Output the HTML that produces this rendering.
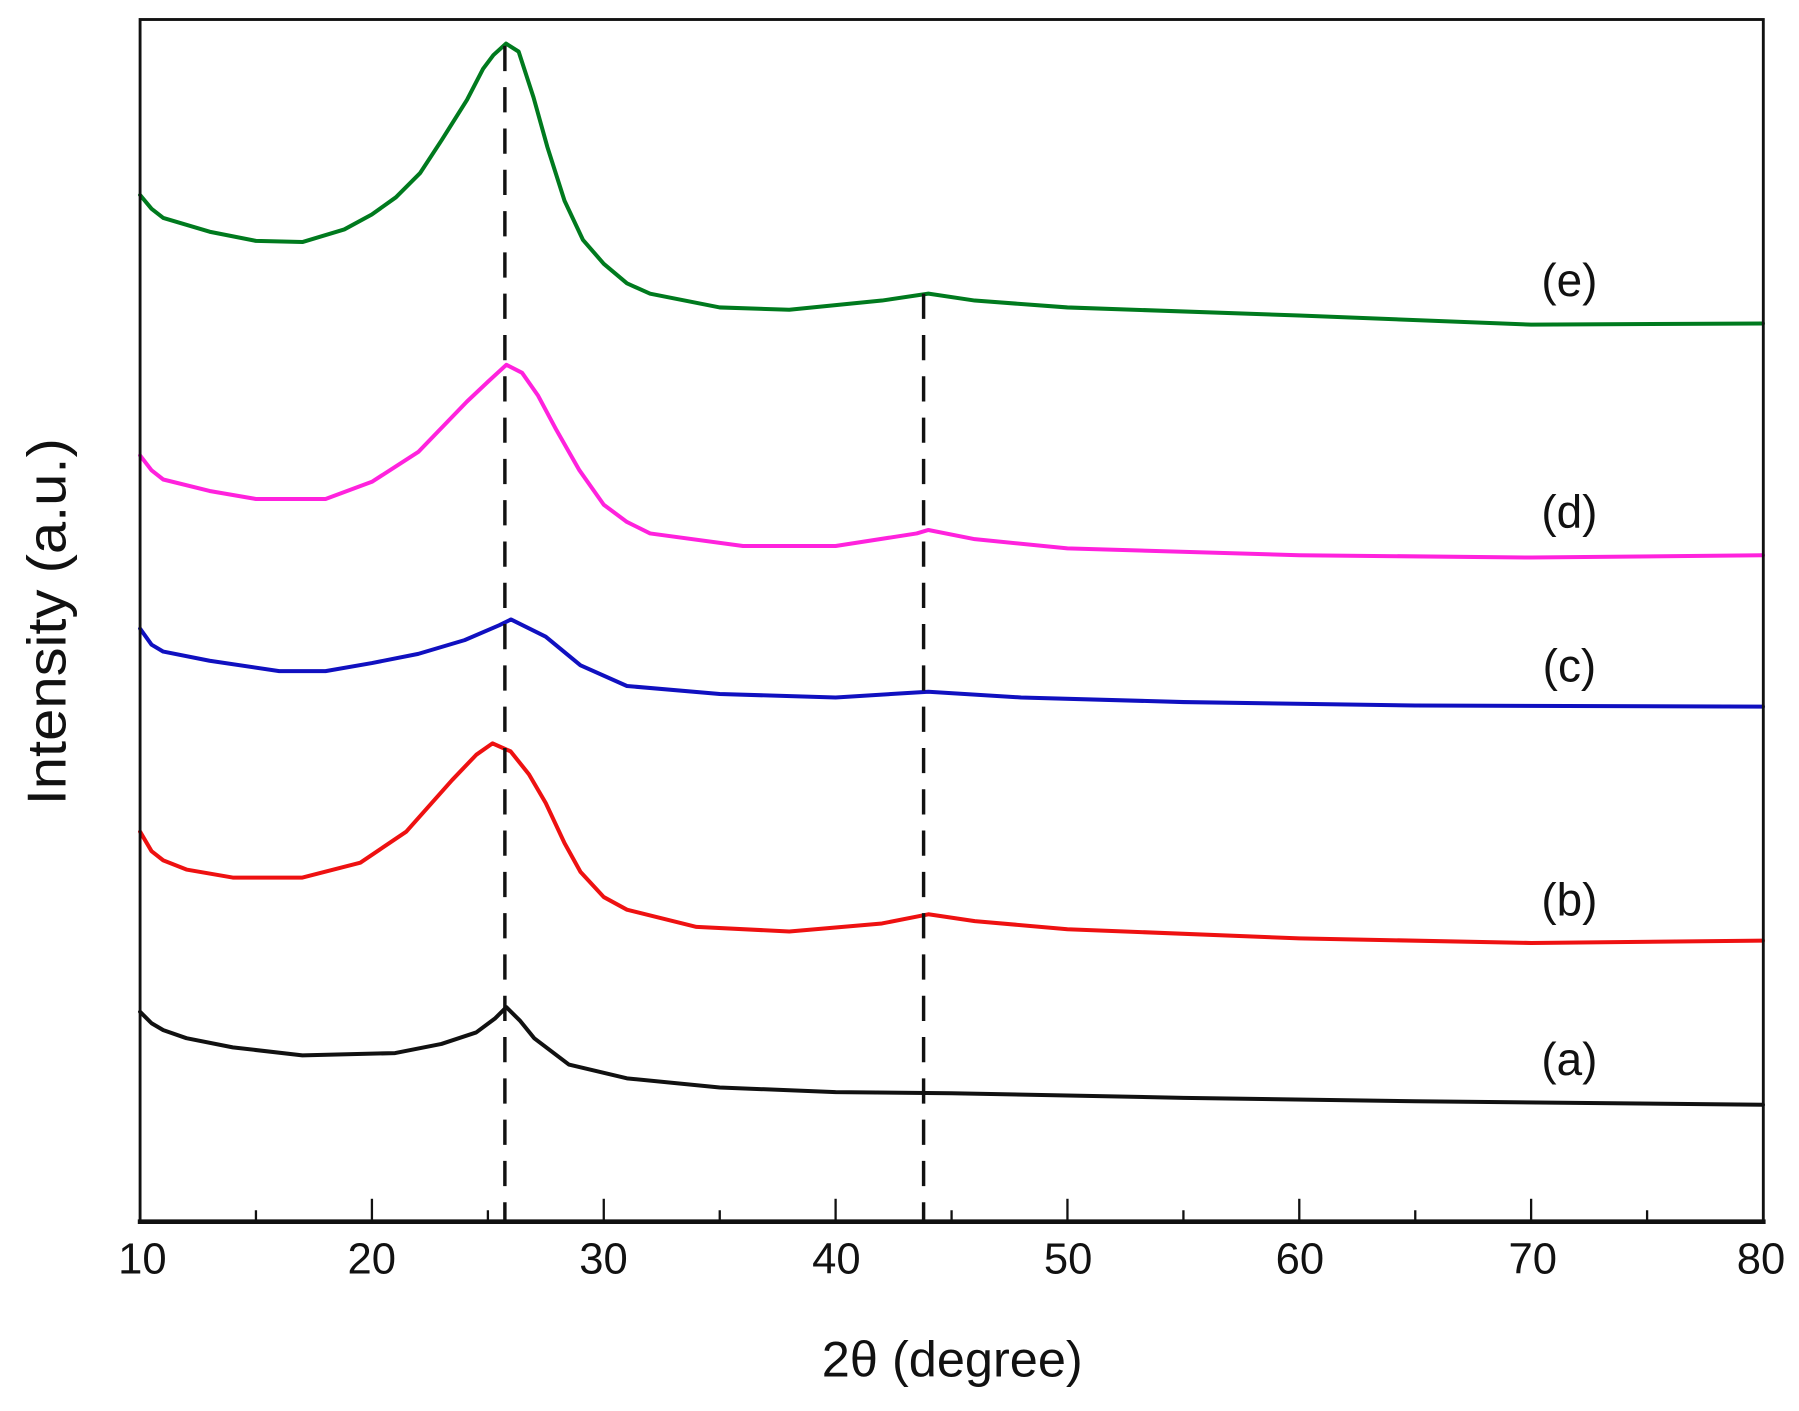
<!DOCTYPE html>
<html><head><meta charset="utf-8"><style>html,body{margin:0;padding:0;background:#fff}svg{display:block}</style></head>
<body>
<svg width="1799" height="1411" viewBox="0 0 1568 1230" xmlns="http://www.w3.org/2000/svg" font-family="Liberation Sans, Arial, sans-serif">
<rect x="0" y="0" width="1568" height="1230" fill="#fff"/>
<g fill="none" stroke-width="3.5" stroke-linejoin="round" stroke-linecap="round">
<polyline stroke="#007a1e" points="122,170 132,182 142.2,190 182.6,202 223,210 263.5,211 300,200 324,187 345,172 366,151 385,122 407,87 421,60 430,48 441,38 452,45 465,85 477,128 492,175 508,209 526.2,230 546.4,247 566.6,256 627.3,268 687.9,270 768.7,262 809.2,256 849.6,262 930.4,268 1132.5,275 1334.6,283 1536.7,282"/>
<polyline stroke="#ff22dd" points="122,397 132,410 142.2,418 182.6,428 223,435 283.7,435 324.1,420 364.5,394 407,350 425,333 441.3,318 455,325 469,345 485,375 505,410 526.2,440 546.4,455 566.6,465 647.5,476 728.3,476 799,465 809.2,462 849.6,470 930.4,478 1132.5,484 1334.6,486 1536.7,484"/>
<polyline stroke="#1010c0" points="122,548 132,562 142.2,568 182.6,576 243.3,585 283.7,585 324.1,578 364.5,570 404.9,558 435.2,545 445.3,540 475.6,555 505.9,580 546.4,598 627.3,605 728.3,608 809.2,603 890,608 1031.5,612 1233.6,615 1536.7,616"/>
<polyline stroke="#ee1111" points="122,725 132,742 142.2,750 162.4,758 202.8,765 263.5,765 314,752 354,725 394,680 415,658 429.2,648 445,655 461,675 475.6,700 492,735 505.9,760 526.2,782 546.4,793 607,808 687.9,812 768.7,805 809.2,797 849.6,803 930.4,810 1132.5,818 1334.6,822 1536.7,820"/>
<polyline stroke="#111111" points="122,882 132,892 142.2,898 162.4,905 202.8,913 263.5,920 344.3,918 384.7,910 415,900 431.2,888 441.3,878 453.4,890 465.5,905 495.8,928 546.4,940 627.3,948 728.3,952 829.4,953 1031.5,957 1233.6,960 1536.7,963"/>
</g>
<g stroke="#111" stroke-width="3" stroke-dasharray="22,14" fill="none">
<line x1="440" y1="40" x2="440" y2="1065"/>
<line x1="805" y1="256" x2="805" y2="1065"/>
</g>
<rect x="122" y="17" width="1415" height="1048" fill="none" stroke="#111" stroke-width="2.5"/>
<line x1="120" y1="1065" x2="1539" y2="1065" stroke="#111" stroke-width="4"/>
<g stroke="#111" stroke-width="2">
<line x1="324.1" y1="1065" x2="324.1" y2="1045"/><line x1="526.2" y1="1065" x2="526.2" y2="1045"/><line x1="728.3" y1="1065" x2="728.3" y2="1045"/><line x1="930.4" y1="1065" x2="930.4" y2="1045"/><line x1="1132.5" y1="1065" x2="1132.5" y2="1045"/><line x1="1334.6" y1="1065" x2="1334.6" y2="1045"/>
<line x1="223" y1="1065" x2="223" y2="1055"/><line x1="425.2" y1="1065" x2="425.2" y2="1055"/><line x1="627.3" y1="1065" x2="627.3" y2="1055"/><line x1="829.4" y1="1065" x2="829.4" y2="1055"/><line x1="1031.5" y1="1065" x2="1031.5" y2="1055"/><line x1="1233.6" y1="1065" x2="1233.6" y2="1055"/><line x1="1435.7" y1="1065" x2="1435.7" y2="1055"/>
</g>
<g font-size="38" text-anchor="middle" fill="#111">
<text x="124" y="1110">10</text><text x="324" y="1110">20</text><text x="526" y="1110">30</text><text x="729" y="1110">40</text><text x="931" y="1110">50</text><text x="1133" y="1110">60</text><text x="1336" y="1110">70</text><text x="1535" y="1110">80</text>
</g>
<text x="830" y="1200" font-size="44" text-anchor="middle" fill="#111">2θ (degree)</text>
<text transform="translate(57,542) rotate(-90)" font-size="48" text-anchor="middle" fill="#111" textLength="320" lengthAdjust="spacingAndGlyphs">Intensity (a.u.)</text>
<g font-size="40" text-anchor="middle" fill="#111">
<text x="1368" y="258">(e)</text><text x="1368" y="460">(d)</text><text x="1368" y="594">(c)</text><text x="1368" y="798">(b)</text><text x="1368" y="937">(a)</text>
</g>
</svg>
</body></html>
